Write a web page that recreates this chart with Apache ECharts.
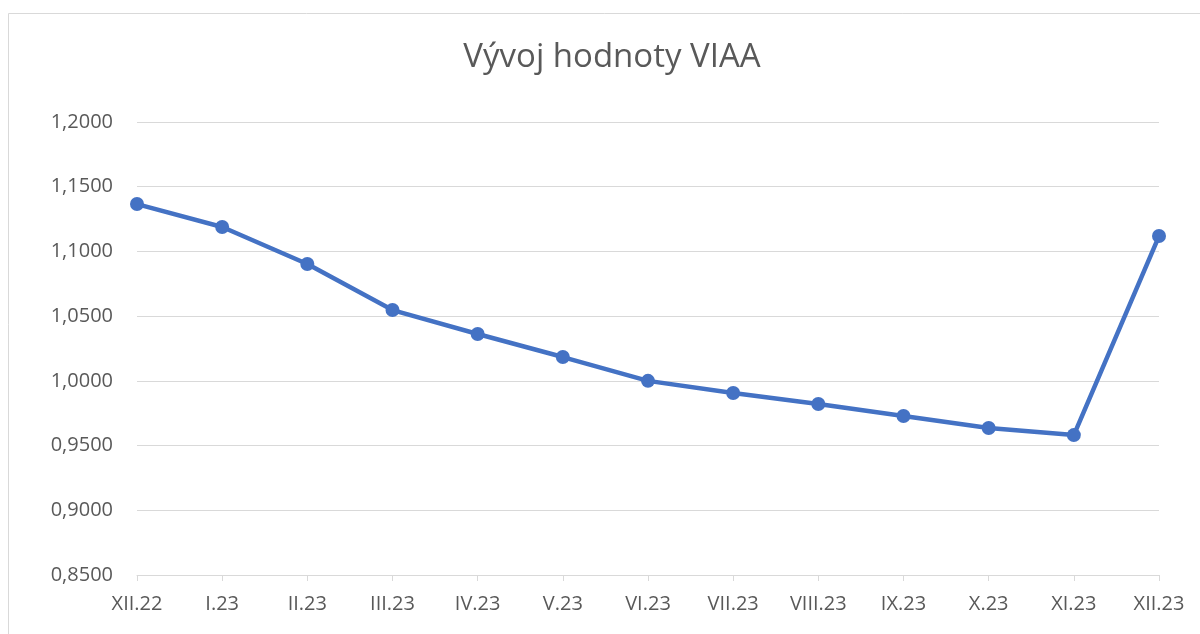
<!DOCTYPE html>
<html>
<head>
<meta charset="utf-8">
<script src="https://cdn.jsdelivr.net/npm/echarts@6/dist/echarts.min.js"></script>
<style>
  html, body { margin: 0; padding: 0; background: #fff; }
  #chart { width: 1200px; height: 634px; }
</style>
</head>
<body>
<div id="chart"></div>
<script>
'use strict';
// kategorie (měsíce) a hodnoty VIAA
var months = ['XII.22', 'I.23', 'II.23', 'III.23', 'IV.23', 'V.23', 'VI.23',
  'VII.23', 'VIII.23', 'IX.23', 'X.23', 'XI.23', 'XII.23'];
var viaaValues = [1.1366, 1.1189, 1.0903, 1.0547, 1.0362, 1.0184, 1.0000,
  0.9906, 0.9821, 0.9728, 0.9636, 0.9581, 1.1119];
var chartTitle = 'Vývoj hodnoty VIAA';

var textColor = '#595959';
var fontFamily = '"Open Sans", sans-serif';

var chart = echarts.init(document.getElementById('chart'));

chart.setOption({
  animation: false,
  backgroundColor: '#fff',
  graphic: [{
    type: 'rect',
    shape: { x: 8.5, y: 13.5, width: 1200, height: 700 },
    style: { fill: 'none', stroke: '#d9d9d9', lineWidth: 1 },
    silent: true
  }],
  title: {
    text: chartTitle,
    left: 607,
    textAlign: 'center',
    top: 36,
    textStyle: { color: textColor, fontSize: 33, fontWeight: 'normal', fontFamily: fontFamily }
  },
  grid: { left: 137, right: 41, top: 122, bottom: 59, containLabel: false },
  xAxis: {
    type: 'category',
    data: months,
    boundaryGap: false,
    axisLine: { lineStyle: { color: '#d9d9d9', width: 1 } },
    axisTick: { show: true, length: 6, alignWithLabel: true, lineStyle: { color: '#d9d9d9' } },
    axisLabel: { color: textColor, fontSize: 20, fontFamily: fontFamily, margin: 19, interval: 0 }
  },
  yAxis: {
    type: 'value',
    min: 0.85,
    max: 1.2,
    interval: 0.05,
    axisLine: { show: false },
    axisTick: { show: false },
    splitLine: { lineStyle: { color: '#d9d9d9', width: 1 } },
    axisLabel: {
      color: textColor, fontSize: 20, fontFamily: fontFamily, margin: 24,
      formatter: function (v) { return v.toFixed(4).replace('.', ','); }
    }
  },
  series: [{
    type: 'line',
    data: viaaValues,
    symbol: 'circle',
    symbolSize: 14,
    lineStyle: { color: '#4472c4', width: 4.5 },
    itemStyle: { color: '#4472c4' }
  }]
});
</script>
</body>
</html>
